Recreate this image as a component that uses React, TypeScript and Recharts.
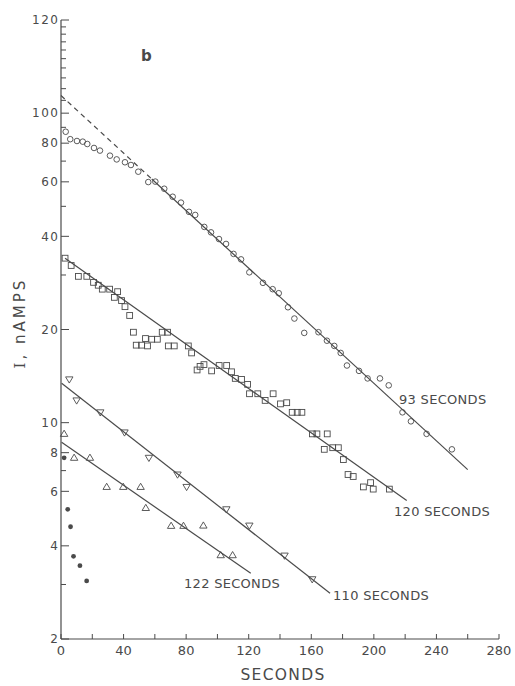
import React from 'react';
import { ScatterChart, Scatter, XAxis, YAxis } from 'recharts';

const W = 515;
const H = 686;
const INK = '#4a4a4a';
const FONT = '"DejaVu Sans", "Liberation Sans", sans-serif';

// open circles — 93 s decay
const t93 = [3.0, 5.9, 10.2, 13.9, 16.8, 21.1, 24.9, 31.3, 35.6, 40.9, 44.7, 49.4, 55.8, 60.3, 66.0, 71.4, 76.7, 81.8, 85.8, 91.6, 95.9, 101.0, 105.5, 110.3, 115.1, 120.4, 129.1, 135.3, 139.2, 145.1, 149.2, 155.5, 164.6, 170.0, 174.7, 178.8, 182.8, 190.5, 196.0, 203.9, 209.5, 218.3, 223.7, 233.7, 249.9];
const i93 = [87.1, 82.4, 81.3, 80.9, 79.5, 77.2, 75.7, 72.9, 70.9, 69.4, 68.0, 64.7, 59.9, 60.1, 57.0, 53.7, 51.4, 48.0, 46.9, 42.9, 41.2, 39.2, 37.8, 35.1, 33.7, 30.6, 28.3, 27.0, 26.2, 23.6, 21.7, 19.5, 19.6, 18.4, 17.7, 16.8, 15.3, 14.7, 13.9, 13.9, 13.2, 10.8, 10.1, 9.2, 8.2];

// open squares — 120 s decay
const t120 = [2.6, 6.5, 11.1, 16.5, 20.8, 23.8, 26.4, 31.1, 36.2, 34.1, 38.7, 40.9, 43.9, 46.3, 48.1, 51.5, 55.3, 54.0, 58.0, 61.6, 64.7, 68.1, 68.6, 72.4, 81.4, 83.5, 87.0, 88.9, 91.4, 96.3, 101.1, 105.9, 109.0, 111.4, 115.4, 119.3, 120.5, 125.8, 130.5, 135.6, 140.3, 144.3, 147.8, 151.0, 154.0, 160.7, 163.6, 170.2, 168.3, 173.7, 177.3, 180.5, 183.5, 186.8, 197.9, 193.3, 199.6, 209.9];
const i120 = [34.0, 32.2, 29.7, 29.7, 28.4, 27.8, 27.0, 27.0, 26.5, 25.4, 24.8, 23.7, 22.2, 19.6, 17.8, 17.8, 17.7, 18.7, 18.6, 18.6, 19.6, 19.6, 17.7, 17.7, 17.7, 16.8, 14.8, 15.2, 15.4, 14.7, 15.3, 15.3, 14.6, 13.9, 13.8, 13.3, 12.4, 12.4, 11.8, 12.4, 11.5, 11.6, 10.8, 10.8, 10.8, 9.2, 9.2, 9.2, 8.2, 8.3, 8.3, 7.6, 6.8, 6.7, 6.4, 6.2, 6.1, 6.1];

// inverted triangles — 110 s decay
const t110 = [5.3, 10.0, 25.1, 40.6, 56.2, 74.5, 80.3, 105.7, 120.4, 142.9, 160.6];
const i110 = [13.8, 11.8, 10.8, 9.3, 7.7, 6.8, 6.2, 5.25, 4.65, 3.72, 3.12];

// upright triangles — 122 s decay
const t122 = [2.0, 8.4, 18.5, 29.2, 39.8, 50.9, 54.2, 70.4, 78.3, 91.0, 102.1, 109.7];
const i122 = [9.2, 7.7, 7.7, 6.2, 6.2, 6.2, 5.3, 4.64, 4.64, 4.65, 3.73, 3.73];

// filled dots, no fit
const tDots = [2.0, 4.3, 6.1, 8.0, 12.1, 16.4];
const iDots = [7.7, 5.25, 4.61, 3.7, 3.45, 3.08];

// fitted lines, end points
const fit93DashT = [0, 58];
const fit93DashI = [114, 61.3];
const fit93T = [58, 260];
const fit93I = [61.3, 7.05];
const fit120T = [2.6, 221];
const fit120I = [34, 5.6];
const fit110T = [0.4, 172];
const fit110I = [13.4, 2.81];
const fit122T = [0.4, 121.3];
const fit122I = [8.64, 3.26];

const xTicks = [0, 20, 40, 60, 80, 100, 120, 140, 160, 180, 200, 220, 240, 260, 280];
const xLabelled = [0, 40, 80, 120, 160, 200, 240, 280];
const yTicks = [2, 3, 4, 6, 7, 8, 10, 20, 30, 40, 50, 60, 70, 80, 90, 100, 110, 120, 130, 140, 150, 160, 170, 180, 190, 200];
// the top tick is printed "120" in the original
const yLabels: Record<number, string> = { 2: '2', 4: '4', 6: '6', 8: '8', 10: '10', 20: '20', 40: '40', 60: '60', 80: '80', 100: '100', 200: '120' };

const zip = (t: number[], i: number[]) => t.map((x, k) => ({ t: x, i: i[k] }));

const OpenCircle = (p: any) => (
  <circle cx={p.cx} cy={p.cy} r={2.8} fill="none" stroke={INK} strokeWidth={0.9} />
);
const OpenSquare = (p: any) => (
  <rect x={p.cx - 2.9} y={p.cy - 2.9} width={5.8} height={5.8} fill="none" stroke={INK} strokeWidth={0.9} />
);
const DownTri = (p: any) => (
  <path d={`M${p.cx - 3.7},${p.cy - 2.5}L${p.cx + 3.7},${p.cy - 2.5}L${p.cx},${p.cy + 3.7}Z`} fill="none" stroke={INK} strokeWidth={0.9} />
);
const UpTri = (p: any) => (
  <path d={`M${p.cx - 3.7},${p.cy + 2.5}L${p.cx + 3.7},${p.cy + 2.5}L${p.cx},${p.cy - 3.7}Z`} fill="none" stroke={INK} strokeWidth={0.9} />
);
const FilledDot = (p: any) => <circle cx={p.cx} cy={p.cy} r={2.4} fill={INK} />;
const NoMark = () => <g />;

const XTick = ({ x, y, payload }: any) => {
  const v = payload.value;
  return (
    <g>
      <line x1={x} x2={x} y1={y} y2={y - 5} stroke={INK} strokeWidth={1} />
      {xLabelled.includes(v) && (
        <text x={x} y={y + 16} textAnchor="middle" fontFamily={FONT} fontSize={13} fill={INK}>
          {v}
        </text>
      )}
    </g>
  );
};

const YTick = ({ x, y, payload }: any) => {
  const label = yLabels[payload.value];
  return (
    <g>
      <line x1={x} x2={x + (label ? 8 : 5)} y1={y} y2={y} stroke={INK} strokeWidth={1} />
      {label && (
        <text x={x - 1.5} y={y} dy="0.36em" textAnchor="end" fontFamily={FONT} fontSize={12} letterSpacing={1.5} fill={INK}>
          {label}
        </text>
      )}
    </g>
  );
};

const fitLine = { stroke: INK, strokeWidth: 1.2 };

export default function App() {
  const txt = { fontFamily: FONT, fill: INK };
  return (
    <div style={{ position: 'absolute', left: 0, top: 0, width: W, height: H, background: '#fff' }}>
      <ScatterChart width={W} height={H} margin={{ top: 20, right: 16, bottom: 17, left: 21 }}>
        <XAxis
          type="number"
          dataKey="t"
          domain={[0, 280]}
          ticks={xTicks}
          interval={0}
          height={30}
          tickSize={0}
          tickMargin={0}
          tickLine={false}
          axisLine={{ stroke: INK, strokeWidth: 1.2 }}
          tick={<XTick />}
        />
        <YAxis
          type="number"
          dataKey="i"
          scale="log"
          domain={[2, 200]}
          allowDataOverflow
          ticks={yTicks}
          interval={0}
          width={40}
          tickSize={0}
          tickMargin={0}
          tickLine={false}
          axisLine={{ stroke: INK, strokeWidth: 1.2 }}
          tick={<YTick />}
        />
        <Scatter data={zip(fit93DashT, fit93DashI)} line={{ ...fitLine, strokeDasharray: '5 4' }} shape={NoMark} isAnimationActive={false} />
        <Scatter data={zip(fit93T, fit93I)} line={fitLine} shape={NoMark} isAnimationActive={false} />
        <Scatter data={zip(fit120T, fit120I)} line={fitLine} shape={NoMark} isAnimationActive={false} />
        <Scatter data={zip(fit110T, fit110I)} line={fitLine} shape={NoMark} isAnimationActive={false} />
        <Scatter data={zip(fit122T, fit122I)} line={fitLine} shape={NoMark} isAnimationActive={false} />
        <Scatter data={zip(t93, i93)} shape={OpenCircle} isAnimationActive={false} />
        <Scatter data={zip(t120, i120)} shape={OpenSquare} isAnimationActive={false} />
        <Scatter data={zip(t110, i110)} shape={DownTri} isAnimationActive={false} />
        <Scatter data={zip(t122, i122)} shape={UpTri} isAnimationActive={false} />
        <Scatter data={zip(tDots, iDots)} shape={FilledDot} isAnimationActive={false} />
      </ScatterChart>
      <svg width={W} height={H} style={{ position: 'absolute', left: 0, top: 0, pointerEvents: 'none' }}>
        <text x={141} y={61} fontSize={15} fontWeight="bold" {...txt}>b</text>
        <text x={399} y={404} fontSize={13} letterSpacing={0.3} {...txt}>93 SECONDS</text>
        <text x={394} y={515.5} fontSize={13} letterSpacing={0.3} {...txt}>120 SECONDS</text>
        <text x={333} y={600} fontSize={13} letterSpacing={0.3} {...txt}>110 SECONDS</text>
        <text x={184} y={588} fontSize={13} letterSpacing={0.3} {...txt}>122 SECONDS</text>
        <text x={283} y={680} textAnchor="middle" fontSize={15.5} letterSpacing={1.3} {...txt}>SECONDS</text>
        <text transform="translate(25,323) rotate(-90)" textAnchor="middle" fontSize={15} letterSpacing={3} {...txt}>
          <tspan fontFamily='"DejaVu Serif", serif'>I</tspan>, nAMPS
        </text>
      </svg>
    </div>
  );
}
